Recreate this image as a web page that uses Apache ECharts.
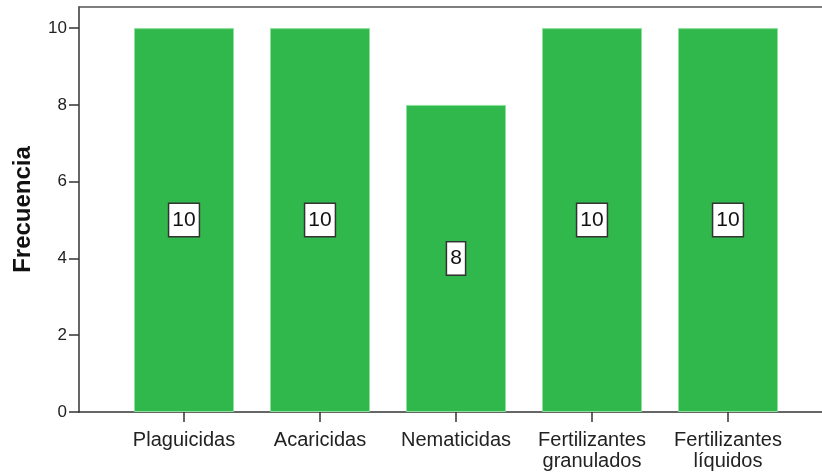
<!DOCTYPE html>
<html>
<head>
<meta charset="utf-8">
<script src="https://cdn.jsdelivr.net/npm/echarts@6/dist/echarts.min.js"></script>
<style>html,body{margin:0;padding:0;background:#fff;}#c{width:822px;height:474px;}</style>
</head>
<body>
<div id="c"></div>
<script>
const categories = ['Plaguicidas', 'Acaricidas', 'Nematicidas', 'Fertilizantes\ngranulados', 'Fertilizantes\nlíquidos'];
const frequencies = [10, 10, 8, 10, 10];
const yTicks = [0, 2, 4, 6, 8, 10];
const yAxisTitle = 'Frecuencia';

const chart = echarts.init(document.getElementById('c'), null, {renderer: 'canvas'});
const Y_MAX = 10.55;
const lineStyle = {color: '#333', width: 1.5};
chart.setOption({
  backgroundColor: '#fff',
  animation: false,
  grid: [
    {left: 79, right: 0, top: 7, bottom: 62},
    {left: 116, right: 26, top: 7, bottom: 62}
  ],
  xAxis: [
    {gridIndex: 0, type: 'value', min: 0, max: 1, position: 'bottom',
     axisLine: {show: true, lineStyle}, axisTick: {show: false}, axisLabel: {show: false}, splitLine: {show: false}},
    {gridIndex: 0, type: 'value', min: 0, max: 1, position: 'top',
     axisLine: {show: true, lineStyle: {color: '#555', width: 1.5}}, axisTick: {show: false}, axisLabel: {show: false}, splitLine: {show: false}},
    {gridIndex: 1, type: 'category', data: categories, position: 'bottom',
     axisLine: {show: false},
     axisTick: {show: true, alignWithLabel: true, length: 10, lineStyle: {color: '#333', width: 1.5}},
     axisLabel: {color: '#222', fontFamily: 'Liberation Sans, Arial, sans-serif', fontSize: 20, lineHeight: 21, margin: 18, interval: 0}}
  ],
  yAxis: [
    {gridIndex: 0, type: 'value', min: 0, max: Y_MAX,
     name: yAxisTitle, nameLocation: 'middle', nameGap: 44,
     nameTextStyle: {fontFamily: 'Liberation Sans, Arial, sans-serif', fontWeight: 'bold', fontSize: 24, color: '#111'},
     axisLine: {show: true, lineStyle},
     axisTick: {show: true, length: 10, customValues: yTicks, lineStyle: {color: '#333', width: 1.5}},
     axisLabel: {customValues: yTicks, color: '#222', fontFamily: 'Liberation Sans, Arial, sans-serif', fontSize: 17, margin: 12},
     splitLine: {show: false}},
    {gridIndex: 1, type: 'value', min: 0, max: Y_MAX, show: false, splitLine: {show: false}}
  ],
  series: [{
    type: 'bar',
    xAxisIndex: 2, yAxisIndex: 1,
    data: frequencies,
    barWidth: 100,
    itemStyle: {color: '#31b84c', borderColor: '#8fe09c', borderWidth: 1},
    label: {
      show: true, position: 'inside',
      color: '#111', fontFamily: 'Liberation Sans, Arial, sans-serif', fontSize: 21, lineHeight: 21,
      backgroundColor: '#fff', borderColor: '#333', borderWidth: 1.5, padding: [6, 3, 5, 3]
    }
  }]
});
</script>
</body>
</html>
